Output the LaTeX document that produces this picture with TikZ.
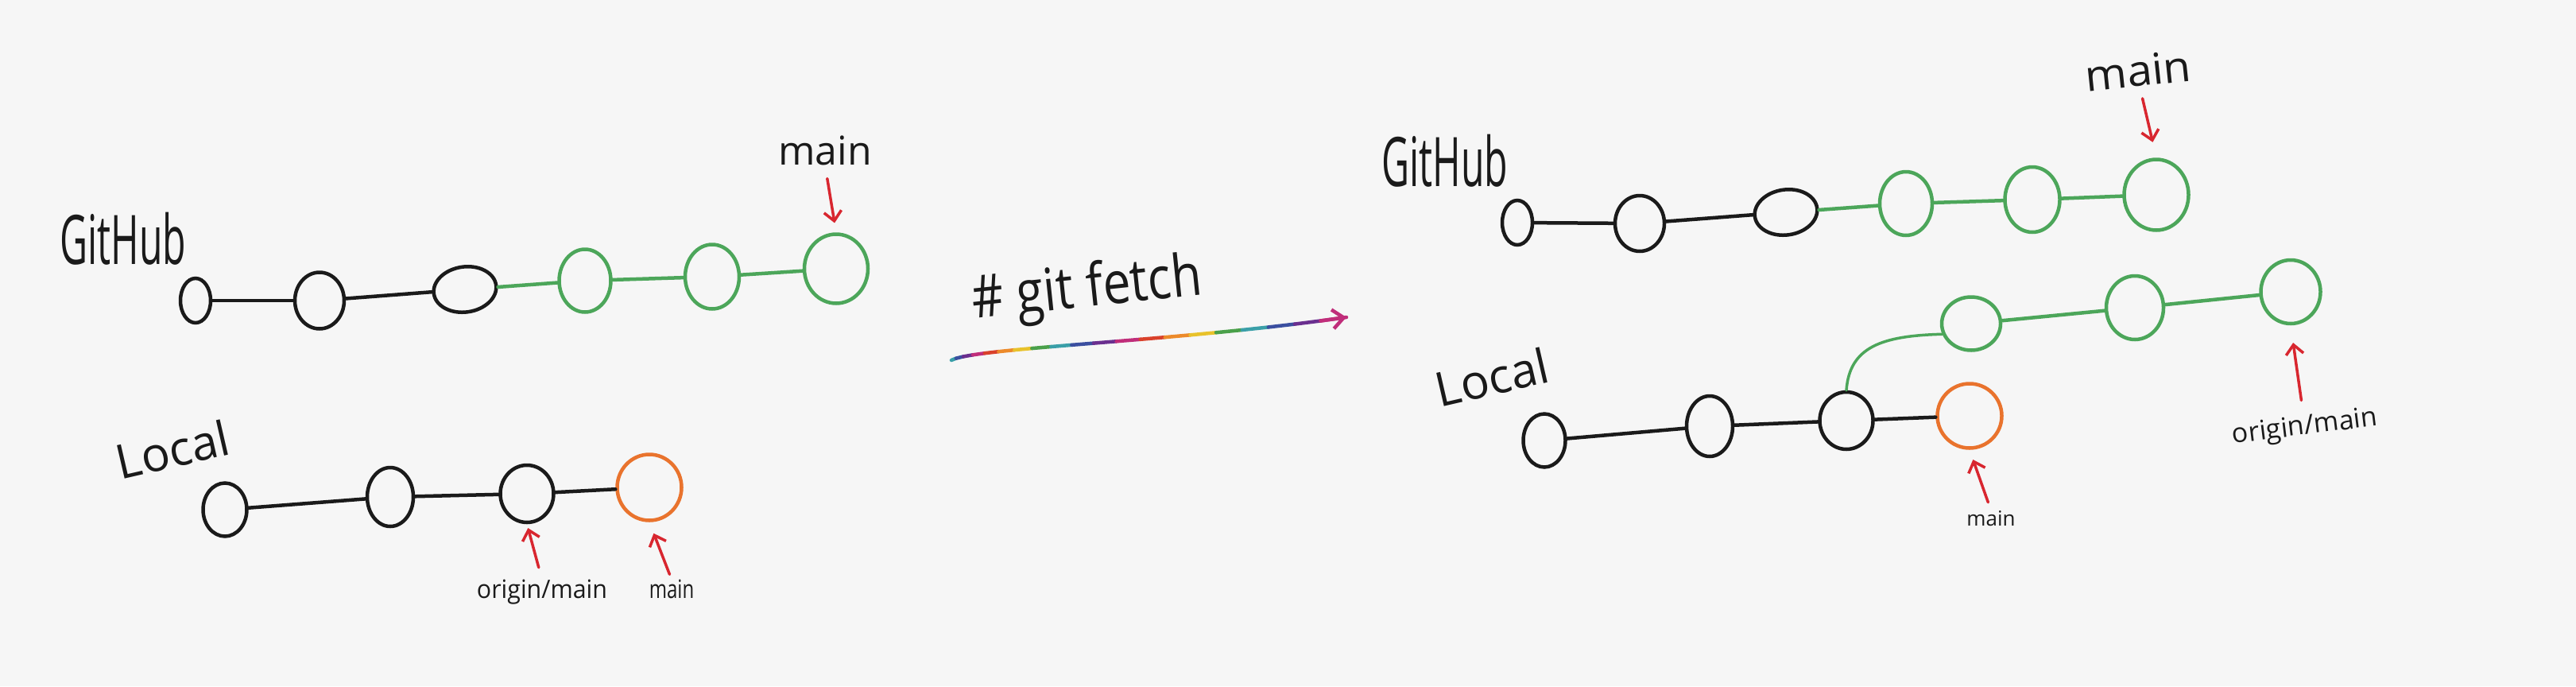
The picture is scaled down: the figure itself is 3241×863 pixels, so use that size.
\documentclass[tikz,border=0pt]{standalone}
\usepackage{fontspec}
\setmainfont{Open Sans}
\usetikzlibrary{shapes.geometric,arrows.meta}
\definecolor{bg}{HTML}{F6F6F6}
\definecolor{gitgreen}{HTML}{4CA65A}
\definecolor{gitorange}{HTML}{E9732D}
\definecolor{gitred}{HTML}{D8262F}
\definecolor{ink}{HTML}{1A1A1A}
\definecolor{rbteal}{HTML}{3A9FA8}
\definecolor{rbblue}{HTML}{3B4FA0}
\definecolor{rbpurple}{HTML}{6A2F8F}
\definecolor{rbmag}{HTML}{C02D7A}
\definecolor{rbred}{HTML}{D9412B}
\definecolor{rborange}{HTML}{EC8A2A}
\definecolor{rbyellow}{HTML}{E8C22B}
\definecolor{rbgreen}{HTML}{4AA04A}
\tikzset{
 commit/.style={ellipse, draw=ink, line width=4.5pt, inner sep=0pt},
 gcommit/.style={commit, draw=gitgreen},
 ocommit/.style={commit, draw=gitorange},
 bline/.style={draw=ink, line width=4.5pt, line cap=round},
 gline/.style={draw=gitgreen, line width=4.5pt, line cap=round},
 redarrow/.style={draw=gitred, line width=3.5pt, line cap=round, -{Straight Barb[length=12pt,width=22pt]}},
 lbl/.style={inner sep=0pt, text=ink},
 rbseg/.style={line width=4.5pt, line cap=round},
}
\begin{document}
\begin{tikzpicture}[x=1pt,y=-1pt]
\fill[bg] (0,0) rectangle (3241,863);
\useasboundingbox (0,0) rectangle (3241,863);

% ---------- left: GitHub ----------
\node[lbl] (ghL) at (155,300) {\fontsize{86}{86}\selectfont\scalebox{0.56}[1]{GitHub}};
\node[commit, minimum width=38pt, minimum height=56pt] (c1) at (246,378) {};
\node[commit, minimum width=62pt, minimum height=71pt] (c2) at (402,378) {};
\node[commit, minimum width=79pt, minimum height=57pt, rotate=8] (c3) at (585,364) {};
\node[gcommit, minimum width=65pt, minimum height=79pt] (c4) at (736,353) {};
\node[gcommit, minimum width=68pt, minimum height=81pt] (c5) at (896,348) {};
\node[gcommit, minimum width=80pt, minimum height=87pt] (c6) at (1052,338) {};
\draw[bline] (c1) -- (c2);
\draw[bline] (c2) -- (c3);
\draw[gline] (c3) -- (c4);
\draw[gline] (c4) -- (c5);
\draw[gline] (c5) -- (c6);
\node[lbl] (mainL) at (1038,189) {\fontsize{50}{50}\selectfont main};
\draw[redarrow, shorten <=17pt, shorten >=12pt] (mainL.south) -- (c6.north);

% ---------- left: Local ----------
\node[lbl, rotate=13] (locL) at (217,565) {\fontsize{60}{60}\selectfont Local};
\node[commit, minimum width=55pt, minimum height=67pt] (l1) at (283,641) {};
\node[commit, minimum width=58pt, minimum height=74pt] (l2) at (491,625) {};
\node[commit, minimum width=67pt, minimum height=72pt] (l3) at (663,621) {};
\node[ocommit, minimum width=81pt, minimum height=83pt] (l4) at (817,613) {};
\draw[bline] (l1) -- (l2);
\draw[bline] (l2) -- (l3);
\draw[bline] (l3) -- (l4);
\node[lbl] (omL) at (682,745) {\fontsize{32}{32}\selectfont\scalebox{0.95}[1]{origin/main}};
\draw[redarrow, shorten <=16pt, shorten >=5pt] (omL.north) -- (l3.south);
\node[lbl] (mbL) at (845,741) {\fontsize{32}{32}\selectfont\scalebox{0.75}[1]{main}};
\draw[redarrow, shorten <=7pt, shorten >=15pt] (mbL.north) -- (l4.south);

% ---------- middle ----------
\node[lbl, rotate=6] (cmd) at (1368,366) {\fontsize{74}{74}\selectfont\scalebox{0.84}[1]{\# git fetch}};
\coordinate (fs) at (1197,453);
\coordinate (fe) at (1694,399);
\path (fs) .. controls (1225,437) and (1480,430) .. (fe)
  \foreach \i in {0,...,20}{ coordinate[pos=\i/20] (rb\i) };
\foreach \c [count=\k] in {rbteal,rbblue,rbpurple,rbmag,rbred,rborange,rbyellow,rbgreen,rbteal,rbblue,rbpurple,rbmag,rbred,rborange,rbyellow,rbgreen,rbteal,rbblue,rbpurple,rbmag}{
  \pgfmathtruncatemacro\kp{\k-1}
  \draw[rbseg, draw=\c] (rb\kp) -- (rb\k);
}
\draw[rbseg, draw=rbmag, -{Straight Barb[length=14pt,width=24pt]}] (rb19) -- (rb20);

% ---------- right: GitHub ----------
\node[lbl] (ghR) at (1818,202) {\fontsize{86}{86}\selectfont\scalebox{0.56}[1]{GitHub}};
\node[commit, minimum width=38pt, minimum height=56pt] (r1) at (1909,280) {};
\node[commit, minimum width=62pt, minimum height=70pt] (r2) at (2063,281) {};
\node[commit, minimum width=79pt, minimum height=57pt, rotate=8] (r3) at (2247,267) {};
\node[gcommit, minimum width=66pt, minimum height=80pt] (r4) at (2398,256) {};
\node[gcommit, minimum width=69pt, minimum height=82pt] (r5) at (2557,251) {};
\node[gcommit, minimum width=81pt, minimum height=89pt] (r6) at (2713,245) {};
\draw[bline] (r1) -- (r2);
\draw[bline] (r2) -- (r3);
\draw[gline] (r3) -- (r4);
\draw[gline] (r4) -- (r5);
\draw[gline] (r5) -- (r6);
\node[lbl, rotate=6] (mainR) at (2690,89) {\fontsize{54}{54}\selectfont\scalebox{1.05}[1]{main}};
\draw[redarrow, shorten <=15pt, shorten >=20pt] (mainR.south) -- (r6.north);

% ---------- right: Local ----------
\node[lbl, rotate=13] (locR) at (1877,474) {\fontsize{60}{60}\selectfont Local};
\node[commit, minimum width=53pt, minimum height=67pt] (rl1) at (1943,554) {};
\node[commit, minimum width=58pt, minimum height=76pt] (rl2) at (2151,536) {};
\node[commit, minimum width=67pt, minimum height=72pt] (rl3) at (2323,529) {};
\node[ocommit, minimum width=81pt, minimum height=81pt] (rl4) at (2478,523) {};
\draw[bline] (rl1) -- (rl2);
\draw[bline] (rl2) -- (rl3);
\draw[bline] (rl3) -- (rl4);
\node[gcommit, minimum width=74pt, minimum height=67pt] (g1) at (2480,407) {};
\node[gcommit, minimum width=72pt, minimum height=80pt] (g2) at (2686,387) {};
\node[gcommit, minimum width=75pt, minimum height=80pt] (g3) at (2882,367) {};
\draw[draw=gitgreen, line width=3.5pt, line cap=round] (rl3.north) .. controls +(4,-55) and +(-75,2) .. (g1.200);
\draw[gline] (g1) -- (g2);
\draw[gline] (g2) -- (g3);
\node[lbl, rotate=7] (omR) at (2900,538) {\fontsize{34}{34}\selectfont origin/main};
\draw[redarrow, shorten <=18pt, shorten >=22pt] (omR.north) -- (g3.south);
\node[lbl] (mbR) at (2505,652) {\fontsize{26}{26}\selectfont main};
\draw[redarrow, shorten <=11pt, shorten >=13pt] (mbR.north) -- (rl4.south);
\end{tikzpicture}
\end{document}
